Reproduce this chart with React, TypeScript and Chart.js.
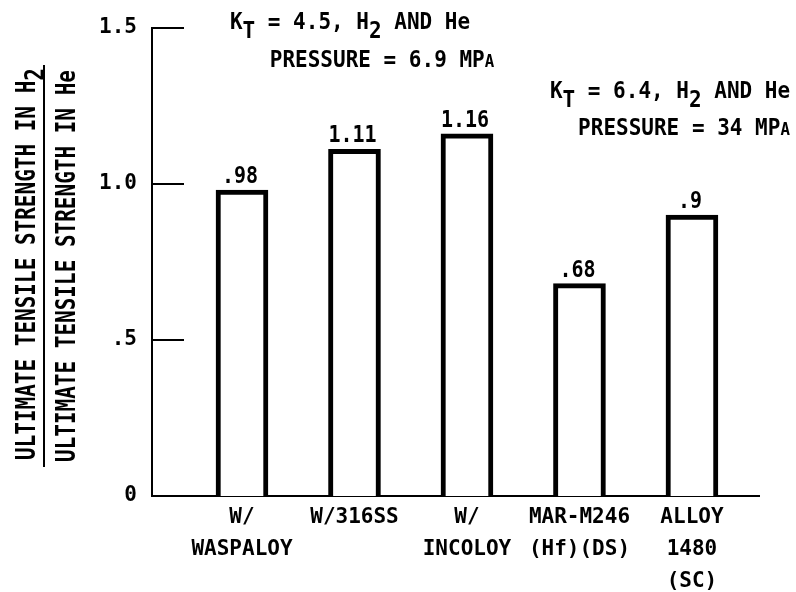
import { useEffect, useRef } from "react";
import { Chart, registerables } from "chart.js";

Chart.register(...registerables);

// ---- data ----
const categories: string[][] = [
  ["W/", "WASPALOY"],
  ["W/316SS"],
  ["W/", "INCOLOY"],
  ["MAR-M246", "(Hf)(DS)"],
  ["ALLOY", "1480", "(SC)"],
];
const positions = [1, 2, 3, 4, 5];
const ratioValues = [0.98, 1.11, 1.16, 0.68, 0.9];
const valueLabels = [".98", "1.11", "1.16", ".68", ".9"];
const yTickValues = [0, 0.5, 1.0, 1.5];
const yTickLabels = ["0", ".5", "1.0", "1.5"];
const innerTickValues = [0.5, 1.0, 1.5];

type Seg = { t: string; sub?: boolean; small?: boolean };
const yTitleTop: Seg[] = [{ t: "ULTIMATE TENSILE STRENGTH IN H" }, { t: "2", sub: true }];
const yTitleBottom: Seg[] = [{ t: "ULTIMATE TENSILE STRENGTH IN He" }];
const note1a: Seg[] = [{ t: "K" }, { t: "T", sub: true }, { t: " = 4.5, H" }, { t: "2", sub: true }, { t: " AND He" }];
const note1b: Seg[] = [{ t: "PRESSURE = 6.9 MP" }, { t: "A", small: true }];
const note2a: Seg[] = [{ t: "K" }, { t: "T", sub: true }, { t: " = 6.4, H" }, { t: "2", sub: true }, { t: " AND He" }];
const note2b: Seg[] = [{ t: "PRESSURE = 34 MP" }, { t: "A", small: true }];

const FONT = '"DejaVu Sans Mono", "Liberation Mono", monospace';
const WEIGHT = "bold";

function segsWidth(ctx: CanvasRenderingContext2D, segs: Seg[], size: number) {
  let w = 0;
  for (const s of segs) {
    const fs = s.small ? size * 0.75 : size;
    ctx.font = `${WEIGHT} ${fs}px ${FONT}`;
    w += ctx.measureText(s.t).width;
  }
  return w;
}

function drawSegs(ctx: CanvasRenderingContext2D, segs: Seg[], size: number, sy: number, subDrop: number) {
  let cx = 0;
  ctx.textAlign = "left";
  ctx.textBaseline = "alphabetic";
  for (const s of segs) {
    const fs = s.small ? size * 0.75 : size;
    ctx.font = `${WEIGHT} ${fs}px ${FONT}`;
    ctx.save();
    ctx.translate(cx, s.sub ? subDrop : 0);
    ctx.scale(1, sy);
    ctx.fillText(s.t, 0, 0);
    ctx.restore();
    cx += ctx.measureText(s.t).width;
  }
}

function drawCentered(ctx: CanvasRenderingContext2D, segs: Seg[], cx: number, baseline: number, size: number, sy: number) {
  const w = segsWidth(ctx, segs, size);
  ctx.save();
  ctx.translate(cx - w / 2, baseline);
  drawSegs(ctx, segs, size, sy, 9);
  ctx.restore();
}

const decorPlugin = {
  id: "decor",
  afterDraw(chart: any) {
    const ctx: CanvasRenderingContext2D = chart.ctx;
    const y = chart.scales.y;
    const area = chart.chartArea;
    ctx.save();
    ctx.fillStyle = "#000";
    ctx.strokeStyle = "#000";

    // inward tick marks on the y axis
    ctx.lineWidth = 2;
    for (const v of innerTickValues) {
      const py = Math.round(y.getPixelForValue(v));
      ctx.beginPath();
      ctx.moveTo(area.left, py);
      ctx.lineTo(area.left + 32, py);
      ctx.stroke();
    }

    // y-axis title as a fraction (rotated)
    const titleSize = 21;
    const titleSy = 1.28;
    ctx.save();
    ctx.translate(35, 460);
    ctx.rotate(-Math.PI / 2);
    drawSegs(ctx, yTitleTop, titleSize, titleSy, 9);
    ctx.restore();
    ctx.save();
    ctx.translate(75, 462);
    ctx.rotate(-Math.PI / 2);
    drawSegs(ctx, yTitleBottom, titleSize, titleSy, 9);
    ctx.restore();
    ctx.lineWidth = 2;
    ctx.beginPath();
    ctx.moveTo(44, 467);
    ctx.lineTo(44, 65);
    ctx.stroke();

    // annotations
    drawCentered(ctx, note1a, 350, 29, 21, 1.12);
    drawCentered(ctx, note1b, 382, 67, 21, 1.12);
    drawCentered(ctx, note2a, 670, 98, 21, 1.12);
    drawCentered(ctx, note2b, 684, 135, 21, 1.12);

    // value labels above bars
    const meta = chart.getDatasetMeta(0);
    meta.data.forEach((bar: any, i: number) => {
      drawCentered(ctx, [{ t: valueLabels[i] }], bar.x - 2, bar.y - 7, 20, 1.15);
    });
    ctx.restore();
  },
};

export default function App() {
  const ref = useRef<HTMLCanvasElement | null>(null);
  useEffect(() => {
    if (!ref.current) return;
    const chart = new Chart(ref.current, {
      type: "bar",
      data: {
        datasets: [
          {
            data: positions.map((x, i) => ({ x, y: ratioValues[i] })),
            backgroundColor: "#ffffff",
            borderColor: "#000000",
            borderWidth: 5,
            borderSkipped: "start",
            barThickness: 52,
          } as any,
        ],
      },
      options: {
        animation: false,
        responsive: false,
        layout: { padding: { top: 24, right: 37, left: 0, bottom: 0 } },
        plugins: {
          legend: { display: false },
          tooltip: { enabled: false },
          title: { display: false },
        },
        scales: {
          x: {
            type: "linear",
            min: 0.2,
            max: 5.596,
            offset: false,
            grid: { display: false, drawTicks: false },
            border: { display: true, color: "#000", width: 2 },
            ticks: {
              autoSkip: false,
              maxRotation: 0,
              minRotation: 0,
              padding: 6,
              color: "#000",
              font: { family: FONT, size: 21, weight: "bold", lineHeight: 32 / 21 },
              callback: (v: any) => {
                const i = positions.indexOf(Number(v));
                return i >= 0 ? categories[i] : "";
              },
            },
            afterBuildTicks: (s: any) => {
              s.ticks = positions.map((v) => ({ value: v }));
            },
            afterFit: (s: any) => {
              s.height = 96;
            },
          },
          y: {
            min: 0,
            max: 1.5,
            grid: { display: false, drawTicks: false },
            border: { display: true, color: "#000", width: 2 },
            ticks: {
              padding: 15,
              color: "#000",
              font: { family: FONT, size: 21, weight: "bold" },
              callback: (v: any) => {
                const i = yTickValues.indexOf(Number(v));
                return i >= 0 ? yTickLabels[i] : "";
              },
            },
            afterBuildTicks: (s: any) => {
              s.ticks = yTickValues.map((v) => ({ value: v }));
            },
            afterFit: (s: any) => {
              s.width = 152;
            },
          },
        },
      } as any,
      plugins: [decorPlugin],
    });
    return () => chart.destroy();
  }, []);
  return (
    <div style={{ position: "absolute", left: 0, top: 0, width: 796, height: 592, background: "#fff" }}>
      <canvas ref={ref} width={796} height={592} style={{ display: "block" }} />
    </div>
  );
}
